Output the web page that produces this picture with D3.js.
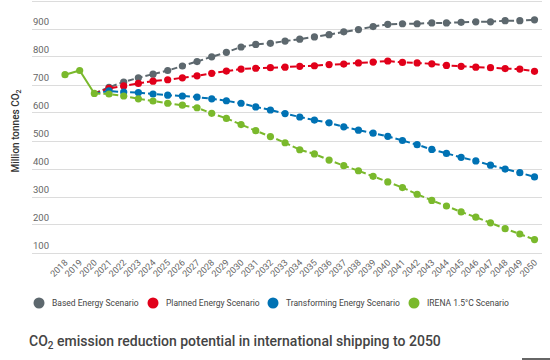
<!DOCTYPE html>
<html><head><meta charset="utf-8">
<script src="https://cdn.jsdelivr.net/npm/d3@7"></script>
<style>
html,body{margin:0;padding:0;background:#fff;}
svg{display:block;font-family:Roboto,"Noto Sans",sans-serif;}
</style></head>
<body><svg id="c" width="550" height="360"></svg>
<script>
const years = d3.range(2018, 2051);
const historyYears = [2018, 2019, 2020];
const historyValues = [735, 750, 668];
const scenarioYears = d3.range(2020, 2051);
const seriesNames = ["Based Energy Scenario", "Planned Energy Scenario", "Transforming Energy Scenario", "IRENA 1.5°C Scenario"];
const seriesColors = ["#5d686e", "#e1001a", "#0072b4", "#7ab92c"];
const basedValues = [668,690,709,724,737,750,766,782,799,815,834,843,847,855,862,870,878,888,896,907,915,917,917,920,920,922,924,924,928,928,931];
const plannedValues = [668,686,695,704,712,717,724,731,740,748,755,758,760,762,765,767,771,773,777,780,784,779,777,774,768,765,762,760,757,755,747];
const transformingValues = [668,677,673,671,666,662,659,655,649,642,633,620,609,596,584,573,563,549,537,526,515,500,485,468,454,440,427,412,398,385,370];
const irenaValues = [668,666,659,649,641,633,626,617,597,579,557,535,514,492,467,452,430,410,392,372,352,332,308,286,266,245,226,206,185,166,146];
const gridTicks = [100,200,300,400,500,600,700,800,900,1000];
const yTickLabels = [100,200,300,400,500,600,700,800,900];
const allSeries = [basedValues, plannedValues, transformingValues, irenaValues];

const svg = d3.select("#c");
const x = d3.scaleLinear().domain([2018, 2050]).range([65, 534.5]);
const y = d3.scaleLinear().domain([100, 1000]).range([252.5, 0.5]);

// gridlines
const grid = svg.append("g");
grid.selectAll("line").data(gridTicks).join("line")
  .attr("x1", 32).attr("x2", 542)
  .attr("y1", d => Math.round(y(d)) + 0.5).attr("y2", d => Math.round(y(d)) + 0.5)
  .attr("stroke", "#dcdcdc").attr("stroke-width", 1);
grid.selectAll("text").data(yTickLabels).join("text")
  .attr("x", 33).attr("y", d => y(d) - 4)
  .attr("font-size", 9.5).attr("fill", "#666").text(d => d);

// y title
svg.append("text")
  .attr("transform", "translate(19,131) rotate(-90)")
  .attr("text-anchor", "middle").attr("font-size", 10).attr("font-weight", 500).attr("fill", "#333")
  .call(t => { t.append("tspan").text("Million tonnes CO"); t.append("tspan").attr("font-size", 7).attr("dy", 2).text("2"); });

// x tick labels
svg.append("g").selectAll("text").data(years).join("text")
  .attr("transform", d => `translate(${x(d) + 1},261) rotate(-45)`)
  .attr("text-anchor", "end").attr("dy", "0.35em")
  .attr("font-size", 9).attr("fill", "#666").text(d => d);

const line = d3.line().x(d => x(d[0])).y(d => y(d[1]));

// scenario lines
allSeries.forEach((vals, i) => {
  const pts = scenarioYears.map((yr, k) => [yr, vals[k]]);
  const g = svg.append("g");
  g.append("path").datum(pts).attr("d", line)
    .attr("fill", "none").attr("stroke", seriesColors[i]).attr("stroke-width", 2)
    .attr("stroke-dasharray", "6,3");
  g.selectAll("circle").data(pts.slice(1)).join("circle")
    .attr("cx", d => x(d[0])).attr("cy", d => y(d[1])).attr("r", 3.6)
    .attr("fill", seriesColors[i]);
});

// history
const hist = historyYears.map((yr, k) => [yr, historyValues[k]]);
const hg = svg.append("g");
hg.append("path").datum(hist).attr("d", line)
  .attr("fill", "none").attr("stroke", seriesColors[3]).attr("stroke-width", 2);
hg.selectAll("circle").data(hist).join("circle")
  .attr("cx", d => x(d[0])).attr("cy", d => y(d[1])).attr("r", 3.6)
  .attr("fill", seriesColors[3]);

// legend
const legendX = [39, 153, 273, 414];
const lg = svg.append("g");
seriesNames.forEach((n, i) => {
  lg.append("circle").attr("cx", legendX[i]).attr("cy", 303).attr("r", 5.5).attr("fill", seriesColors[i]);
  lg.append("text").attr("x", legendX[i] + 13).attr("y", 306).attr("font-size", 8.5).attr("fill", "#444").text(n);
});

// title
svg.append("text").attr("x", 29).attr("y", 346).attr("font-size", 14).attr("font-weight", 500).attr("fill", "#444")
  .call(t => {
    t.append("tspan").text("CO");
    t.append("tspan").attr("font-size", 10).attr("dy", 3).text("2");
    t.append("tspan").attr("dy", -3).text(" emission reduction potential in international shipping to 2050");
  });

svg.append("rect").attr("x", 522).attr("y", 358).attr("width", 28).attr("height", 2).attr("fill", "#666");
</script></body></html>
